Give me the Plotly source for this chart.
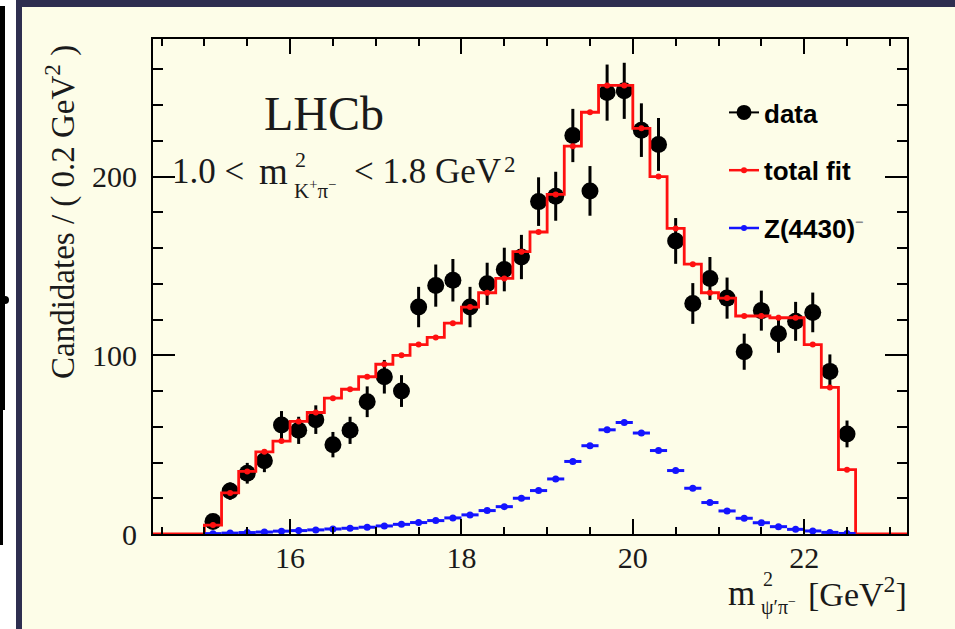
import plotly.graph_objects as go

# ---------------- data ----------------
bin_centers = [15.1, 15.3, 15.5, 15.7, 15.9, 16.1, 16.3, 16.5, 16.7, 16.9,
               17.1, 17.3, 17.5, 17.7, 17.9, 18.1, 18.3, 18.5, 18.7, 18.9,
               19.1, 19.3, 19.5, 19.7, 19.9, 20.1, 20.3, 20.5, 20.7, 20.9,
               21.1, 21.3, 21.5, 21.7, 21.9, 22.1, 22.3, 22.5]
data_counts = [7, 24, 34, 41, 61, 58, 64, 50, 58, 74,
               88, 80, 127, 139, 142, 127, 140, 148, 155, 186,
               189, 223, 192, 247, 248, 226, 218, 164, 129, 143,
               132, 102, 125, 112, 119, 124, 91, 56]
data_errors = [2.6, 4.9, 5.8, 6.4, 7.8, 7.6, 8.0, 7.1, 7.6, 8.6,
               9.4, 8.9, 11.3, 11.8, 11.9, 11.3, 11.8, 12.2, 12.4, 13.6,
               13.7, 14.9, 13.9, 15.7, 15.7, 15.0, 14.8, 12.8, 11.4, 12.0,
               11.5, 10.1, 11.2, 10.6, 10.9, 11.1, 9.5, 7.5]
fit_values = [5, 23, 35, 46, 52, 63, 68, 76, 81, 88,
              95, 100, 106, 110, 118, 127, 135, 143, 158, 169,
              190, 217, 236, 251, 251, 227, 200, 171, 151, 135,
              132, 122, 122, 121, 121, 106, 82, 36]
z_values = [0.2, 0.5, 0.8, 1.1, 1.6, 1.9, 2.3, 2.8, 3.2, 3.8,
            4.5, 5.4, 6.4, 7.5, 9.0, 10.7, 13.1, 15.3, 20.0, 24.3,
            30.8, 40.6, 49.4, 58.3, 62.4, 56.5, 46.7, 35.5, 25.6, 17.6,
            12.9, 8.8, 6.3, 4.1, 2.6, 1.7, 0.9, 0.3]
bin_width = 0.2
x_range = [14.4, 23.2]
y_range = [0, 277]
legend_names = ["data", "total fit",
                'Z(4430)<sup><span style="color:#8a8a8a;font-size:14px">−</span></sup>']

# ---------------- geometry helpers ----------------
W, H = 955, 629
L, R, T, B = 153, 907, 39, 534


def px(x):
    return (x - L) / (R - L)


def py(y):
    return (B - y) / (B - T)


BLACK = "black"
RED = "#ff1010"
BLUE = "#1414ff"
CREAM = "#fdfde8"
NAVY = "#2e2e50"
SERIF = "Liberation Serif"
SANS = "Liberation Sans"

# step outline of the fit
half = bin_width / 2
step_x = [x_range[0]] + [c - half for c in bin_centers] + [bin_centers[-1] + half, x_range[1]]
step_y = [0] + fit_values + [0, 0]

fig = go.Figure()

fig.add_trace(go.Scatter(
    x=bin_centers, y=data_counts, mode="markers",
    marker=dict(color=BLACK, size=17),
    error_y=dict(type="data", array=data_errors, color=BLACK, thickness=3, width=0),
    showlegend=False, hoverinfo="skip"))

fig.add_trace(go.Scatter(
    x=step_x, y=step_y, mode="lines",
    line=dict(color=RED, width=2.8, shape="hv"),
    showlegend=False, hoverinfo="skip"))
fig.add_trace(go.Scatter(
    x=bin_centers, y=fit_values, mode="markers",
    marker=dict(color=RED, size=6),
    showlegend=False, hoverinfo="skip"))

fig.add_trace(go.Scatter(
    x=bin_centers, y=z_values, mode="markers",
    marker=dict(color=BLUE, size=7),
    error_x=dict(type="constant", value=half, color=BLUE, thickness=3, width=0),
    showlegend=False, hoverinfo="skip"))

# legend entries
legend_styles = [(BLACK, 15, 2), (RED, 6, 2.5), (BLUE, 6, 2.5)]
for i, (name, (col, ms, lw)) in enumerate(zip(legend_names, legend_styles)):
    fig.add_trace(go.Scatter(
        x=[None], y=[None], mode="lines+markers", name=name,
        line=dict(color=col, width=lw), marker=dict(color=col, size=ms),
        legendgroup=f"g{i}", showlegend=True))

annotations = []


def ann(text, x, y, size, xanchor="left", family=SERIF, angle=0, color="#1a1a1a"):
    annotations.append(dict(
        text=text, x=px(x), y=py(y), xref="paper", yref="paper",
        xanchor=xanchor, yanchor="middle", showarrow=False, textangle=angle,
        font=dict(family=family, size=size, color=color)))


ann("LHCb", 262, 114, 48)
ann("1.0 <", 170, 172, 35)
ann("m", 257, 172, 37)
ann("2", 293, 159, 22)
ann("K<sup>+</sup>π<sup>−</sup>", 292, 190, 21)
ann("< 1.8 GeV", 352, 172, 35)
ann("2", 502, 164, 23)

ann("Candidates / ( 0.2 GeV<sup>2</sup> )", 60, 212, 33, xanchor="center", angle=-90)

ann("m", 726, 593, 35)
ann("2", 761, 579, 20)
ann("ψ′π<sup>−</sup>", 759, 606, 20)
ann("[GeV<sup>2</sup>]", 909, 592, 34, xanchor="right")

shapes = [
    dict(type="rect", xref="paper", yref="paper", x0=px(0), x1=px(16), y0=py(0), y1=py(H),
         fillcolor="white", line=dict(width=0), layer="above"),
    dict(type="rect", xref="paper", yref="paper", x0=px(16), x1=px(22), y0=py(0), y1=py(H),
         fillcolor=NAVY, line=dict(width=0), layer="above"),
    dict(type="rect", xref="paper", yref="paper", x0=px(16), x1=px(W), y0=py(0), y1=py(7),
         fillcolor=NAVY, line=dict(width=0), layer="above"),
    dict(type="rect", xref="paper", yref="paper", x0=px(0), x1=px(5), y0=py(6), y1=py(410),
         fillcolor="black", line=dict(width=0), layer="above"),
    dict(type="rect", xref="paper", yref="paper", x0=px(0), x1=px(3), y0=py(410), y1=py(545),
         fillcolor="black", line=dict(width=0), layer="above"),
    dict(type="circle", xref="paper", yref="paper", x0=px(1), x1=px(9), y0=py(296), y1=py(304),
         fillcolor="black", line=dict(width=0), layer="above"),
]

axis_common = dict(showline=True, linecolor=BLACK, linewidth=2, mirror="allticks",
                   ticks="inside", tickwidth=2, tickcolor=BLACK, showgrid=False,
                   zeroline=False, tickfont=dict(family=SERIF, size=30, color="#1a1a1a"))

fig.update_layout(
    width=W, height=H,
    margin=dict(l=L, r=W - R, t=T, b=H - B, pad=0),
    paper_bgcolor=CREAM, plot_bgcolor=CREAM,
    xaxis=dict(range=x_range, tickmode="linear", tick0=0, dtick=2, ticklen=15,
               ticklabelstandoff=-4,
               minor=dict(tickmode="linear", tick0=0, dtick=0.5, ticks="inside", ticklen=7,
                          tickwidth=2, tickcolor=BLACK),
               **axis_common),
    yaxis=dict(range=y_range, tickmode="linear", tick0=0, dtick=100, ticklen=22,
               ticklabelstandoff=8,
               minor=dict(tickmode="linear", tick0=0, dtick=20, ticks="inside", ticklen=10,
                          tickwidth=2, tickcolor=BLACK),
               **axis_common),
    legend=dict(x=px(724), y=py(89), xanchor="left", yanchor="top",
                bgcolor="rgba(0,0,0,0)", borderwidth=0, traceorder="grouped",
                tracegroupgap=21,
                font=dict(family=SANS, size=26, color=BLACK, weight="bold")),
    annotations=annotations,
    shapes=shapes,
    showlegend=True,
)

fig.write_html("out.html", config={"displayModeBar": False},
               post_script="document.body.style.margin='0';document.body.style.overflow='hidden';")
